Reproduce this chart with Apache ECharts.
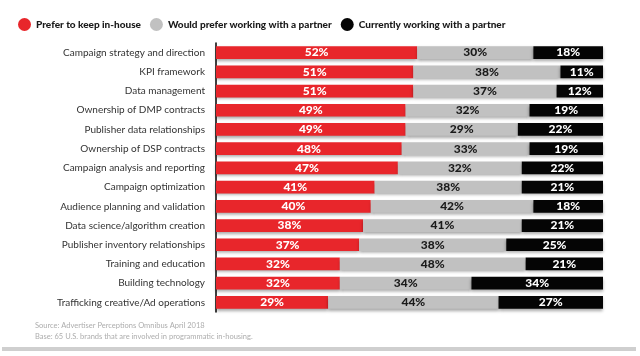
<!DOCTYPE html>
<html>
<head>
<meta charset="utf-8">
<script src="https://cdn.jsdelivr.net/npm/echarts@6/dist/echarts.min.js"></script>
<style>
html,body{margin:0;padding:0;background:#fff;}
#c{width:640px;height:356px;}
</style>
</head>
<body>
<div id="c"></div>
<script>
const categories = [
  "Campaign strategy and direction",
  "KPI framework",
  "Data management",
  "Ownership of DMP contracts",
  "Publisher data relationships",
  "Ownership of DSP contracts",
  "Campaign analysis and reporting",
  "Campaign optimization",
  "Audience planning and validation",
  "Data science/algorithm creation",
  "Publisher inventory relationships",
  "Training and education",
  "Building technology",
  "Trafficking creative/Ad operations"
];
const keepInHouse = [52, 51, 51, 49, 49, 48, 47, 41, 40, 38, 37, 32, 32, 29];
const preferPartner = [30, 38, 37, 32, 29, 33, 32, 38, 42, 41, 38, 48, 34, 44];
const currentPartner = [18, 11, 12, 19, 22, 19, 22, 21, 18, 21, 25, 21, 34, 27];
const seriesNames = ["Prefer to keep in-house", "Would prefer working with a partner", "Currently working with a partner"];
const colors = ["#e8262b", "#c1c1c1", "#050505"];
const labelColors = ["#ffffff", "#1a1a1a", "#ffffff"];

const FONT = "Lato, 'Noto Sans', sans-serif";
const chart = echarts.init(document.getElementById('c'), null, {renderer: 'canvas'});

const mk = (name, data, i) => ({
  name: name,
  type: 'bar',
  stack: 'total',
  data: data,
  barWidth: '66%',
  itemStyle: {
    color: colors[i],
    shadowColor: 'rgba(0,0,0,0.35)',
    shadowBlur: 3,
    shadowOffsetY: 2
  },
  label: {
    show: true,
    position: 'inside',
    formatter: '{c}%',
    color: labelColors[i],
    fontFamily: FONT,
    fontWeight: 900,
    fontSize: 12
  }
});

chart.setOption({
  animation: false,
  backgroundColor: '#fff',
  color: colors,
  legend: {
    top: 13,
    left: 13,
    icon: 'circle',
    itemWidth: 13,
    itemHeight: 13,
    itemGap: 9,
    textStyle: {fontFamily: FONT, fontWeight: 900, fontSize: 10, color: '#1a1a1a'},
    data: seriesNames
  },
  grid: {left: 216, right: 37, top: 43, height: 269, containLabel: false},
  xAxis: {
    type: 'value', min: 0, max: 100,
    show: false
  },
  yAxis: {
    type: 'category',
    data: categories,
    inverse: true,
    axisLine: {show: true, lineStyle: {color: '#000', width: 1.5}},
    axisTick: {show: false},
    axisLabel: {fontFamily: FONT, fontSize: 10, color: '#333', margin: 11}
  },
  series: [
    mk(seriesNames[0], keepInHouse, 0),
    mk(seriesNames[1], preferPartner, 1),
    mk(seriesNames[2], currentPartner, 2)
  ],
  graphic: [
    {type: 'text', left: 35, top: 322, style: {text: 'Source: Advertiser Perceptions Omnibus April 2018', fill: '#adadad', font: '7.5px ' + FONT}},
    {type: 'text', left: 35, top: 333, style: {text: 'Base: 65 U.S. brands that are involved in programmatic in-housing.', fill: '#adadad', font: '7.5px ' + FONT}},
    {type: 'rect', shape: {x: 2, y: 347, width: 634, height: 4}, style: {fill: '#cfcfcf'}}
  ]
});
</script>
</body>
</html>
